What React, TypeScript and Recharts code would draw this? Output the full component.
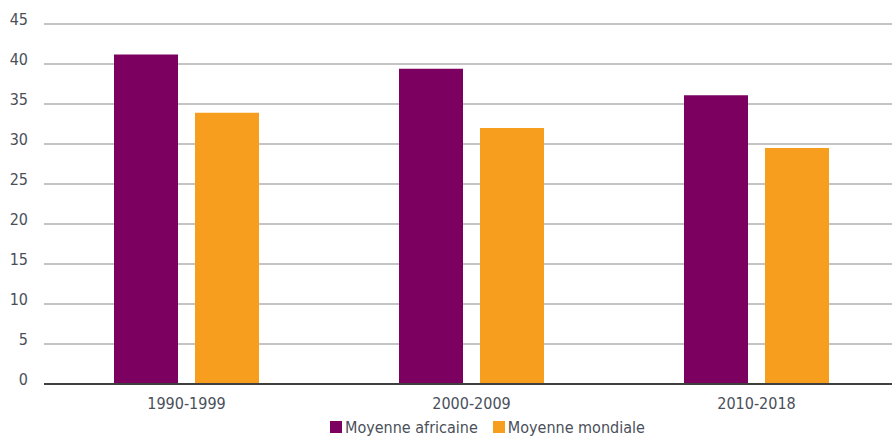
import { BarChart, Bar, XAxis, YAxis, CartesianGrid, Legend } from 'recharts';

const periods = ['1990-1999', '2000-2009', '2010-2018'];
const africanAverage = [41.2, 39.4, 36.1];
const worldAverage = [33.9, 32.0, 29.5];
const yTicks = [0, 5, 10, 15, 20, 25, 30, 35, 40, 45];

const seriesNames = {
  africa: 'Moyenne africaine',
  world: 'Moyenne mondiale',
};

const PURPLE = '#7b0060';
const ORANGE = '#f79e1f';
const TEXT = '#4a4f5a';
const FONT = "'DejaVu Sans Condensed', 'Liberation Sans Narrow', sans-serif";

const data = periods.map((name, i) => ({
  name,
  africa: africanAverage[i],
  world: worldAverage[i],
}));

const YTick = ({ x, y, payload }: any) => (
  <text x={x} y={y} dy={1} textAnchor="end" fill={TEXT} fontSize={16} fontFamily={FONT}>
    {payload.value}
  </text>
);

const LegendContent = () => (
  <div
    style={{
      display: 'flex',
      alignItems: 'center',
      height: 20,
      whiteSpace: 'nowrap',
      fontFamily: FONT,
      fontSize: 16,
      color: TEXT,
    }}
  >
    <span style={{ flex: 'none', width: 12, height: 12, background: PURPLE, marginRight: 3 }} />
    <span style={{ marginRight: 15 }}>{seriesNames.africa}</span>
    <span style={{ flex: 'none', width: 12, height: 12, background: ORANGE, marginRight: 3 }} />
    <span>{seriesNames.world}</span>
  </div>
);

export default function App() {
  return (
    <div style={{ position: 'absolute', left: 0, top: 0, width: 892, height: 439, overflow: 'hidden', background: '#fff' }}>
      <BarChart
        width={900}
        height={439}
        data={data}
        margin={{ top: 24, right: 1, bottom: 25, left: 0 }}
        barSize={64}
        barGap={17}
      >
        <CartesianGrid vertical={false} stroke="#c4c4c4" strokeWidth={2} />
        <XAxis
          dataKey="name"
          height={30}
          axisLine={{ stroke: '#3f3f3f', strokeWidth: 2 }}
          tickLine={false}
          tickSize={0}
          tickMargin={14}
          tick={{ fill: TEXT, fontSize: 16, fontFamily: FONT }}
        />
        <YAxis
          width={44}
          domain={[0, 45]}
          ticks={yTicks}
          axisLine={false}
          tickLine={false}
          tickSize={0}
          tickMargin={16}
          tick={<YTick />}
        />
        <Legend
          layout="horizontal"
          verticalAlign="middle"
          align="center"
          wrapperStyle={{ top: 417, left: 330, width: 330, height: 20 }}
          content={<LegendContent />}
        />
        <Bar dataKey="africa" name={seriesNames.africa} fill={PURPLE} isAnimationActive={false} />
        <Bar dataKey="world" name={seriesNames.world} fill={ORANGE} isAnimationActive={false} />
      </BarChart>
    </div>
  );
}
